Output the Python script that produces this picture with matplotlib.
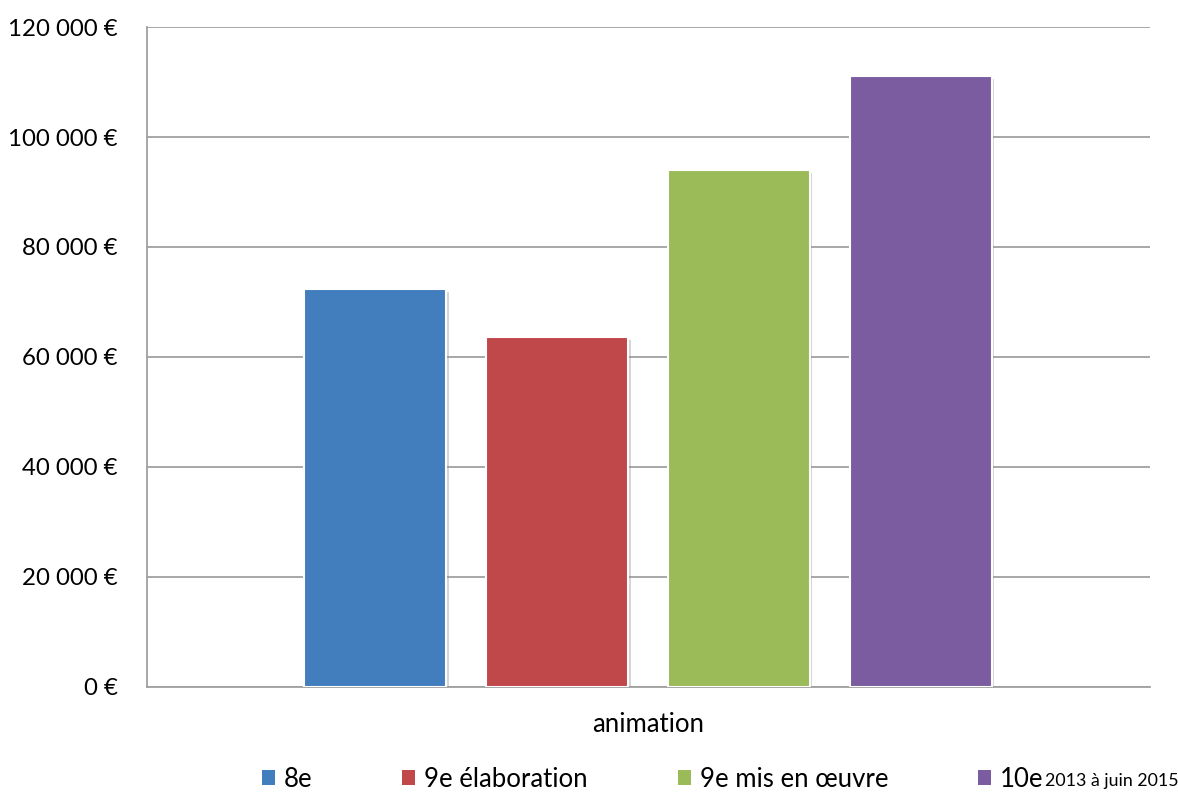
import matplotlib
matplotlib.use("Agg")
import matplotlib.pyplot as plt
import matplotlib.patheffects as pe
from matplotlib.patches import Patch
from matplotlib.ticker import FuncFormatter, MultipleLocator

plt.rcParams['font.family'] = ['Lato', 'DejaVu Sans']

# Budget animation par programme
programmes = ['8e', '9e élaboration', '9e mis en œuvre', '10e']
montants = [72300, 63600, 94000, 111100]
couleurs = ['#427DBD', '#C0474A', '#9BBB59', '#7B5CA0']
periode_10e = '2013 à juin 2015'


def euros(v, pos):
    return f"{int(v):,}".replace(",", " ") + " €"


def main():
    fig = plt.figure(figsize=(11.78, 7.92), dpi=100)
    ax = fig.add_axes([0.1248, 0.1326, 0.8514, 0.8333])

    pas = 1.0
    positions = [i * pas for i in range(len(montants))]
    ombre = [pe.SimplePatchShadow(offset=(2, -2), shadow_rgbFace='#888888', alpha=0.35),
             pe.Normal()]
    for x, h, c in zip(positions, montants, couleurs):
        ax.bar(x, h, width=0.78, color=c, edgecolor='white', linewidth=1.5,
               zorder=3, path_effects=ombre)

    ax.set_xlim(-1.253, 3 + 1.261)
    ax.set_ylim(0, 120000)
    ax.yaxis.set_major_locator(MultipleLocator(20000))
    ax.yaxis.set_major_formatter(FuncFormatter(euros))
    ax.grid(axis='y', color='#a0a0a0', linewidth=1.3, zorder=0)
    ax.set_xticks([])
    ax.tick_params(axis='y', length=0, labelsize=17.3, pad=21)
    for s in ['top', 'right']:
        ax.spines[s].set_visible(False)
    for s in ['left', 'bottom']:
        ax.spines[s].set_color('#a0a0a0')
        ax.spines[s].set_linewidth(1.3)
    ax.set_xlabel('animation', fontsize=18.5, labelpad=18)

    handles = [Patch(facecolor=c, edgecolor='none') for c in couleurs]
    leg = fig.legend(handles, programmes, loc='center left',
                     bbox_to_anchor=(262 / 1178, 0.016), ncol=4, frameon=False,
                     fontsize=18.5, handlelength=0.5, handleheight=0.5,
                     handletextpad=0.35, columnspacing=3.5, borderpad=0,
                     borderaxespad=0)

    # petite mention de période après « 10e »
    fig.canvas.draw()
    bb = leg.get_texts()[-1].get_window_extent().transformed(fig.transFigure.inverted())
    fig.text(bb.x1 + 0.001, bb.y0 + 0.004, periode_10e, fontsize=12.8, va='bottom', ha='left')

    fig.savefig('out.png', dpi=100)


if __name__ == "__main__":
    main()
